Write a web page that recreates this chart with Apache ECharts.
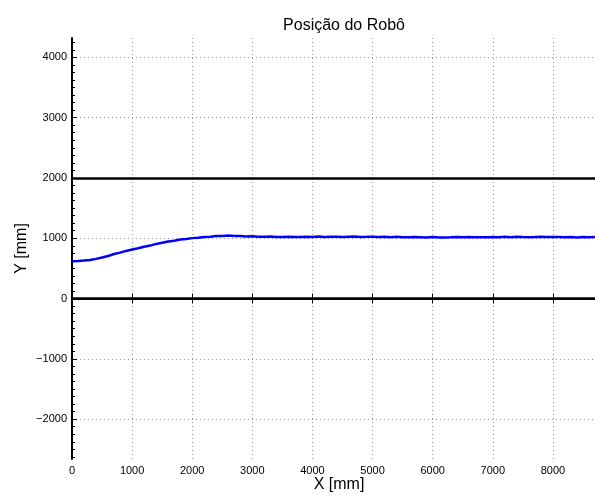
<!DOCTYPE html>
<html>
<head>
<meta charset="utf-8">
<script src="https://cdn.jsdelivr.net/npm/echarts@6/dist/echarts.min.js"></script>
<style>
	html, body { margin: 0; padding: 0; background: #fff; }
	#chart { width: 595px; height: 495px; }
</style>
</head>
<body>
<div id="chart"></div>
<script>
var xPos = [
	0, 100, 200, 300, 400, 500, 600, 700, 800, 900,
	1000, 1100, 1200, 1300, 1400, 1500, 1600, 1700, 1800, 1900,
	2000, 2100, 2200, 2300, 2400, 2500, 2600, 2700, 2800, 2900,
	3000, 3100, 3200, 3300, 3400, 3500, 3600, 3700, 3800, 3900,
	4000, 4100, 4200, 4300, 4400, 4500, 4600, 4700, 4800, 4900,
	5000, 5100, 5200, 5300, 5400, 5500, 5600, 5700, 5800, 5900,
	6000, 6100, 6200, 6300, 6400, 6500, 6600, 6700, 6800, 6900,
	7000, 7100, 7200, 7300, 7400, 7500, 7600, 7700, 7800, 7900,
	8000, 8100, 8200, 8300, 8400, 8500, 8600, 8700
];
var yPos = [
	620, 622, 630, 640, 658, 680, 706, 738, 762, 790,
	812, 833, 860, 878, 906, 924, 946, 958, 978, 988,
	1002, 1008, 1022, 1026, 1036, 1038, 1044, 1036, 1037, 1030,
	1032, 1025, 1026, 1027, 1021, 1022, 1024, 1019, 1021, 1023,
	1020, 1027, 1019, 1024, 1026, 1020, 1026, 1027, 1022, 1023,
	1025, 1019, 1024, 1018, 1023, 1016, 1017, 1019, 1018, 1013,
	1019, 1014, 1014, 1016, 1020, 1015, 1021, 1017, 1016, 1018,
	1022, 1017, 1023, 1018, 1024, 1019, 1018, 1020, 1025, 1019,
	1019, 1020, 1018, 1019, 1014, 1019, 1015, 1021
];
// limites da pista
var boundaries = [0, 2000];

var xRange = [0, 8700];
var yRange = [-2660, 4320];
var yTicks = [-2000, -1000, 0, 1000, 2000, 3000, 4000];
// marcas menores do eixo Y (a cada 125 mm)
var yMinorTicks = [];
for (var v = -2625; v <= 4250; v += 125) {
	if (v % 1000 !== 0) yMinorTicks.push(v);
}

var font = 'Liberation Sans, Arial, Helvetica, sans-serif';

var fmt = function (val) {
	return val < 0 ? '\u2212' + Math.abs(val) : String(val);
};

var renderChart = function () {
	var chartDom = document.getElementById('chart');
	var myChart = echarts.init(chartDom, null, { devicePixelRatio: 1, renderer: 'canvas' });
	var gridLine = { show: true, lineStyle: { color: '#999', width: 1, type: [1, 3] } };
	var option = {
		animation: false,
		title: {
			text: 'Posição do Robô',
			left: 339,
			top: 13,
			textAlign: 'center',
			textStyle: { fontFamily: font, fontSize: 16, fontWeight: 'normal', color: '#000' }
		},
		grid: { left: 72, top: 38, right: 0, bottom: 36, containLabel: false, outerBoundsMode: 'none' },
		xAxis: [
			{
				type: 'value',
				min: xRange[0],
				max: xRange[1],
				interval: 1000,
				name: 'X [mm]',
				nameLocation: 'middle',
				nameGap: 18,
				nameMoveOverlap: false,
				nameTextStyle: { fontFamily: font, fontSize: 16, color: '#000', padding: [0, 0, 0, 11] },
				axisLine: { lineStyle: { color: '#000', width: 2 } },
				axisTick: { inside: true, length: 5, lineStyle: { color: '#000' } },
				axisLabel: { fontFamily: font, fontSize: 11, color: '#000', margin: 6, showMaxLabel: false, formatter: fmt },
				splitLine: gridLine
			},
			{
				type: 'value',
				position: 'top',
				min: xRange[0],
				max: xRange[1],
				interval: 1000,
				axisLine: { lineStyle: { color: '#000', width: 1.5 } },
				axisTick: { inside: true, length: 5, lineStyle: { color: '#000' } },
				axisLabel: { show: false },
				splitLine: { show: false }
			}
		],
		yAxis: [
			{
				type: 'value',
				min: yRange[0],
				max: yRange[1],
				name: 'Y [mm]',
				nameLocation: 'middle',
				nameGap: 42,
				nameMoveOverlap: false,
				nameTextStyle: { fontFamily: font, fontSize: 16, color: '#000' },
				axisLine: { lineStyle: { color: '#000', width: 2 } },
				axisTick: { inside: true, length: 5, customValues: yTicks, lineStyle: { color: '#000' } },
				axisLabel: { fontFamily: font, fontSize: 11, color: '#000', margin: 5, customValues: yTicks, formatter: fmt },
				splitLine: gridLine
			},
			{
				type: 'value',
				position: 'left',
				min: yRange[0],
				max: yRange[1],
				axisLine: { show: false },
				axisTick: { inside: true, length: 3, customValues: yMinorTicks, lineStyle: { color: '#000' } },
				axisLabel: { show: false },
				splitLine: { show: false }
			}
		],
		series: [
			{
				type: 'line',
				data: xPos.map(function (x, i) { return [x, yPos[i]]; }),
				showSymbol: false,
				lineStyle: { color: '#0000ff', width: 2.5 },
				markLine: {
					silent: true,
					symbol: 'none',
					label: { show: false },
					lineStyle: { color: '#000', width: 2.5, type: 'solid' },
					data: boundaries.map(function (v) { return { yAxis: v }; })
				}
			}
		]
	};
	option && myChart.setOption(option);
};
renderChart();
</script>
</body>
</html>
